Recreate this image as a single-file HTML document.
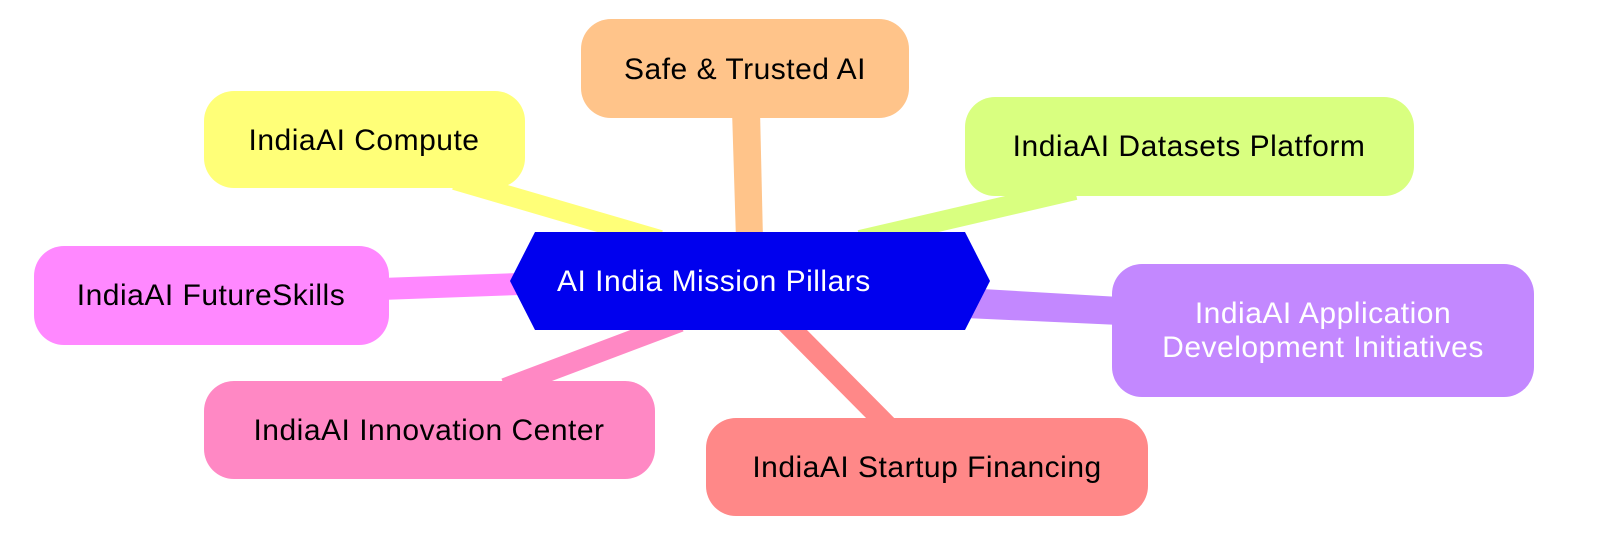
<!DOCTYPE html>
<html><head><meta charset="utf-8"><style>
html,body{margin:0;padding:0;background:#fff;}
svg{display:block}
text{font-family:"Liberation Sans","DejaVu Sans",sans-serif;font-size:30px;letter-spacing:0.5px;}
</style></head><body>
<svg width="1600" height="548" viewBox="0 0 1600 548" xmlns="http://www.w3.org/2000/svg">
<!-- edges -->
<polygon points="732,110 760,110 763,240 736,240" fill="#ffc48a"/>
<line x1="455" y1="180" x2="660" y2="240" stroke="#ffff78" stroke-width="20"/>
<line x1="1075" y1="190" x2="860" y2="240" stroke="#d9ff80" stroke-width="20"/>
<line x1="380" y1="289" x2="520" y2="284" stroke="#ff88ff" stroke-width="22"/>
<polygon points="965,288 1120,297 1120,325 965,318" fill="#c388ff"/>
<line x1="505" y1="388" x2="680" y2="322" stroke="#ff88c4" stroke-width="20"/>
<line x1="785" y1="322" x2="890" y2="428" stroke="#ff8888" stroke-width="20"/>
<!-- nodes -->
<rect x="581" y="19" width="328" height="99" rx="30" fill="#ffc48a"/>
<text x="745" y="79" text-anchor="middle">Safe &amp; Trusted AI</text>
<rect x="204" y="91" width="321" height="97" rx="30" fill="#ffff78"/>
<text x="364" y="150" text-anchor="middle">IndiaAI Compute</text>
<rect x="965" y="97" width="449" height="99" rx="30" fill="#d9ff80"/>
<text x="1189" y="156" text-anchor="middle">IndiaAI Datasets Platform</text>
<rect x="34" y="246" width="355" height="99" rx="30" fill="#ff88ff"/>
<text x="211" y="305" text-anchor="middle">IndiaAI FutureSkills</text>
<rect x="1112" y="264" width="422" height="133" rx="30" fill="#c388ff"/>
<text x="1323" y="323" text-anchor="middle" fill="#fff">IndiaAI Application</text>
<text x="1323" y="357" text-anchor="middle" fill="#fff">Development Initiatives</text>
<rect x="204" y="381" width="451" height="98" rx="30" fill="#ff88c4"/>
<text x="429" y="440" text-anchor="middle">IndiaAI Innovation Center</text>
<rect x="706" y="418" width="442" height="98" rx="30" fill="#ff8888"/>
<text x="927" y="477" text-anchor="middle">IndiaAI Startup Financing</text>
<polygon points="510,281 535,232 965,232 990,281 965,330 535,330" fill="#0000ee"/>
<text x="557" y="291" fill="#fff">AI India Mission Pillars</text>
</svg>
</body></html>
